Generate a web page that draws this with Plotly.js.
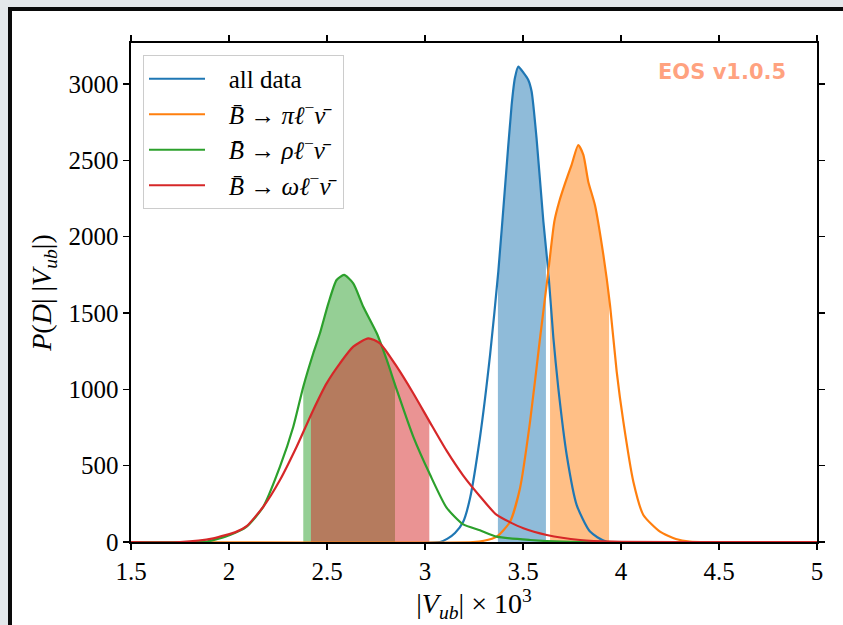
<!DOCTYPE html>
<html>
<head>
<meta charset="utf-8">
<script src="https://cdn.plot.ly/plotly-3.0.1.min.js"></script>
<style>
  html, body { margin: 0; padding: 0; width: 843px; height: 625px; overflow: hidden; background: #e4e8eb; }
  #frame { position: absolute; left: 8px; top: 7px; width: 900px; height: 700px; border: 4px solid #0a0a0a; background: #ffffff; }
  #chart { position: absolute; left: 0; top: 0; width: 843px; height: 625px; }
</style>
</head>
<body>
<div id="frame"></div>
<div id="chart"></div>
<script>
// ---- data ----
const legendLabels = [
  "all data",
  "<i>B\u0304</i> \u2192 <i>\u03c0\u2113</i><sup>\u2212</sup><i>\u03bd\u0304</i>",
  "<i>B\u0304</i> \u2192 <i>\u03c1\u2113</i><sup>\u2212</sup><i>\u03bd\u0304</i>",
  "<i>B\u0304</i> \u2192 <i>\u03c9\u2113</i><sup>\u2212</sup><i>\u03bd\u0304</i>"
];
const colors = ["#1f77b4", "#ff7f0e", "#2ca02c", "#d62728"];
const fillColors = ["rgba(31,119,180,0.5)", "rgba(255,127,14,0.5)", "rgba(44,160,44,0.5)", "rgba(214,39,40,0.5)"];

const allX = [1.5, 3.077, 3.115, 3.153, 3.195, 3.23, 3.28, 3.332, 3.374, 3.408, 3.442, 3.459, 3.476, 3.503, 3.527, 3.544, 3.569, 3.604, 3.629, 3.655, 3.68, 3.723, 3.774, 3.842, 3.927, 5];
const allY = [0, 0, 22, 59, 133, 288, 681, 1225, 1771, 2319, 2862, 3040, 3113, 3072, 3026, 2950, 2646, 2098, 1771, 1336, 1009, 570, 242, 68, 2, 0];

const piX = [1.5, 3.245, 3.3, 3.366, 3.434, 3.485, 3.536, 3.587, 3.629, 3.66, 3.685, 3.715, 3.748, 3.782, 3.808, 3.833, 3.867, 3.91, 3.944, 3.978, 4.012, 4.063, 4.114, 4.199, 4.28, 4.35, 5];
const piY = [0, 0, 8, 35, 133, 354, 788, 1336, 1771, 2100, 2230, 2350, 2470, 2600, 2535, 2360, 2207, 1880, 1552, 1116, 788, 395, 177, 68, 20, 3, 0];

const rhoX = [1.5, 1.75, 1.886, 2.005, 2.09, 2.175, 2.26, 2.328, 2.379, 2.43, 2.464, 2.507, 2.549, 2.587, 2.634, 2.685, 2.754, 2.805, 2.856, 2.94, 3.026, 3.11, 3.195, 3.28, 3.366, 3.536, 3.7, 5];
const rhoY = [0, 0, 2, 46, 100, 231, 493, 755, 1017, 1236, 1367, 1563, 1716, 1749, 1694, 1541, 1367, 1192, 996, 690, 440, 225, 115, 77, 35, 13, 2, 0];

const omegaX = [1.5, 1.75, 1.92, 2.039, 2.09, 2.175, 2.26, 2.345, 2.43, 2.498, 2.566, 2.634, 2.711, 2.77, 2.856, 2.94, 3.026, 3.11, 3.195, 3.28, 3.366, 3.502, 3.621, 3.791, 3.96, 5];
const omegaY = [0, 0, 24, 68, 104, 231, 406, 624, 865, 1039, 1170, 1279, 1334, 1301, 1148, 974, 782, 598, 435, 300, 177, 90, 46, 13, 2, 0];

// shaded credible intervals (|Vub| x 10^3)
const intervalLo = [3.372, 3.638, 2.379, 2.418];
const intervalHi = [3.617, 3.939, 2.847, 3.022];

const xTicks = [1.5, 2, 2.5, 3, 3.5, 4, 4.5, 5];
const yTicks = [0, 500, 1000, 1500, 2000, 2500, 3000];

// ---- build traces ----
const xs = [allX, piX, rhoX, omegaX];
const ys = [allY, piY, rhoY, omegaY];

function interp(X, Y, x) {
  for (let i = 0; i < X.length - 1; i++) {
    if (x >= X[i] && x <= X[i + 1]) {
      const t = (x - X[i]) / (X[i + 1] - X[i]);
      return Y[i] + t * (Y[i + 1] - Y[i]);
    }
  }
  return 0;
}

const traces = [];
for (let k = 0; k < 4; k++) {
  const lo = intervalLo[k], hi = intervalHi[k];
  const fx = [lo], fy = [interp(xs[k], ys[k], lo)];
  for (let i = 0; i < xs[k].length; i++) {
    if (xs[k][i] > lo && xs[k][i] < hi) { fx.push(xs[k][i]); fy.push(ys[k][i]); }
  }
  fx.push(hi); fy.push(interp(xs[k], ys[k], hi));
  traces.push({
    x: fx, y: fy, type: "scatter", mode: "lines", fill: "tozeroy",
    fillcolor: fillColors[k], line: { width: 0, shape: "spline", smoothing: 0.6 },
    showlegend: false, hoverinfo: "skip"
  });
}
const pad = "\u00a0\u00a0\u00a0";
for (let k = 0; k < 4; k++) {
  traces.push({
    x: xs[k], y: ys[k], type: "scatter", mode: "lines",
    name: pad + legendLabels[k], legendgroup: "g" + k,
    line: { color: colors[k], width: 2.2, shape: "spline", smoothing: 0.6 }
  });
}

const serif = "Liberation Serif, DejaVu Serif, serif";

const layout = {
  width: 843, height: 625,
  margin: { l: 131, r: 26, t: 43, b: 83, pad: 0 },
  paper_bgcolor: "rgba(0,0,0,0)",
  plot_bgcolor: "#ffffff",
  font: { family: serif, size: 25, color: "#000" },
  showlegend: true,
  legend: {
    x: 0.0175, y: 0.976, xanchor: "left", yanchor: "top",
    bgcolor: "rgba(255,255,255,0.85)", bordercolor: "#cccccc", borderwidth: 1,
    font: { family: serif, size: 25, color: "#000" },
    tracegroupgap: 7, itemwidth: 56, traceorder: "normal"
  },
  xaxis: {
    range: [1.5, 5], tickvals: xTicks, ticktext: xTicks.map(String),
    showgrid: false, zeroline: false,
    showline: true, linecolor: "#000", linewidth: 1.6, mirror: "ticks",
    ticks: "outside", ticklen: 6, tickwidth: 1.4, tickcolor: "#000",
    tickfont: { family: serif, size: 25 },
    title: { text: "|<i>V</i><sub><i>ub</i></sub>| \u00d7 10<sup>3</sup>", font: { family: serif, size: 28 }, standoff: 6 }
  },
  yaxis: {
    range: [0, 3268], tickvals: yTicks, ticktext: yTicks.map(String),
    showgrid: false, zeroline: false,
    showline: true, linecolor: "#000", linewidth: 1.6, mirror: "ticks",
    ticks: "outside", ticklen: 6, tickwidth: 1.4, tickcolor: "#000",
    tickfont: { family: serif, size: 25 },
    title: { text: "<i>P</i>(<i>D</i>| |<i>V</i><sub><i>ub</i></sub>|)", font: { family: serif, size: 28 }, standoff: 8 }
  },
  annotations: [{
    text: "<b>EOS v1.0.5</b>", xref: "paper", yref: "paper",
    x: 0.957, y: 0.942, xanchor: "right", yanchor: "middle", showarrow: false,
    font: { family: "DejaVu Sans, sans-serif", size: 21, color: "rgba(255,69,0,0.5)" }
  }]
};

Plotly.newPlot("chart", traces, layout, { displayModeBar: false, staticPlot: true });
</script>
</body>
</html>
